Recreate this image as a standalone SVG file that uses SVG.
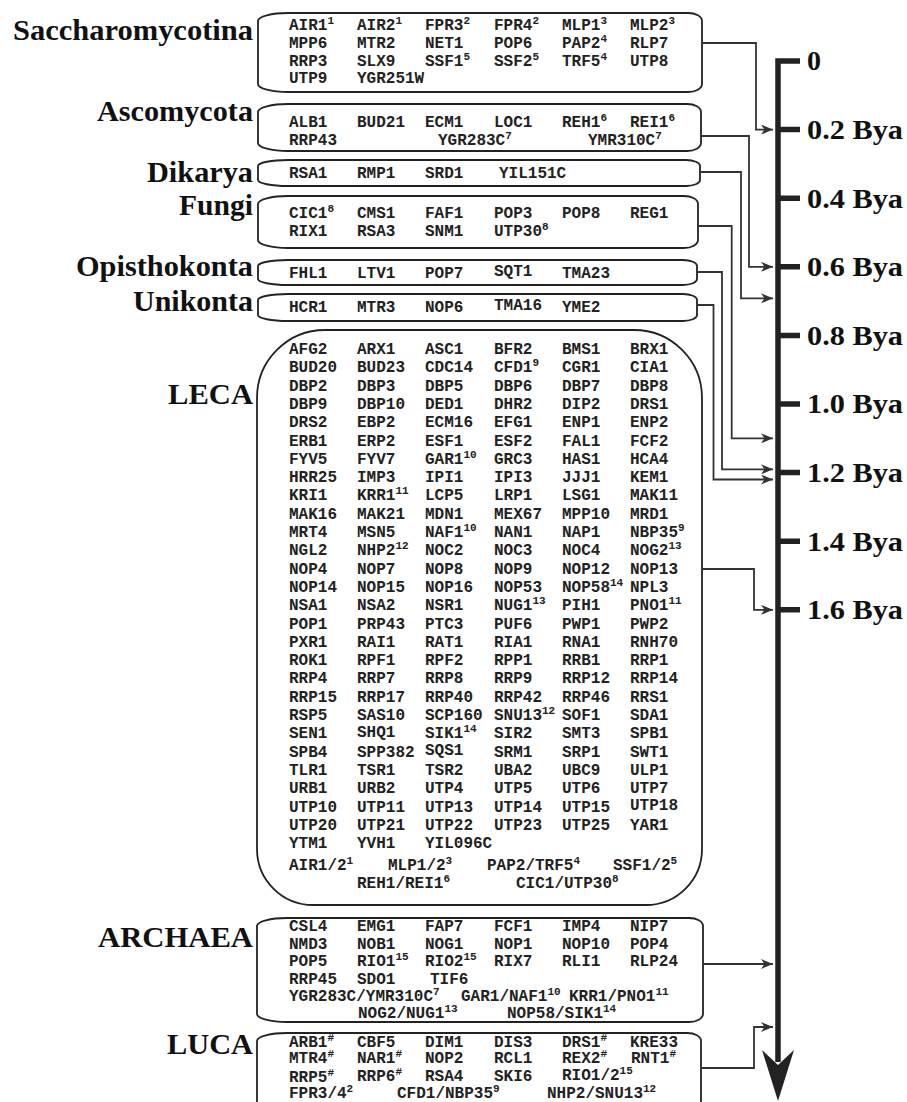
<svg xmlns="http://www.w3.org/2000/svg" width="907" height="1102" viewBox="0 0 907 1102">
<style>
.lab{font-family:"Liberation Serif","Times New Roman",serif;font-weight:bold;font-size:30px;fill:#111}
.tk{font-family:"Liberation Serif","Times New Roman",serif;font-weight:bold;font-size:28px;fill:#111}
.g{font-family:"Liberation Mono","Courier New",monospace;font-weight:bold;font-size:16px;fill:#222}
.s{font-size:11px}
.box{fill:#fff;stroke:#222;stroke-width:1.8}
.con{fill:none;stroke:#333;stroke-width:1.8}
.axis{fill:none;stroke:#222;stroke-width:5.5;stroke-linejoin:miter}
</style>
<defs>
<marker id="ah" markerUnits="userSpaceOnUse" markerWidth="12" markerHeight="10" refX="12" refY="5" orient="auto"><path d="M0,0 L12,5 L0,10 L3.5,5 Z" fill="#333"/></marker>
</defs>
<rect width="907" height="1102" fill="#fff"/>

<g id="saccharomycotina">
<path class="box" d="M288,13 H688 A14,8 0 0 1 702,21 V84 A14,8 0 0 1 688,92 H288 A30,8 0 0 1 258,84 V21 A30,8 0 0 1 288,13 Z"/>
<text class="lab" x="13" y="40" textLength="240" lengthAdjust="spacingAndGlyphs">Saccharomycotina</text>
<text class="g" x="289" y="30">AIR1<tspan class="s" dy="-6">1</tspan></text>
<text class="g" x="357" y="30">AIR2<tspan class="s" dy="-6">1</tspan></text>
<text class="g" x="425" y="30">FPR3<tspan class="s" dy="-6">2</tspan></text>
<text class="g" x="494" y="30">FPR4<tspan class="s" dy="-6">2</tspan></text>
<text class="g" x="562" y="30">MLP1<tspan class="s" dy="-6">3</tspan></text>
<text class="g" x="630" y="30">MLP2<tspan class="s" dy="-6">3</tspan></text>
<text class="g" x="289" y="48">MPP6</text>
<text class="g" x="357" y="48">MTR2</text>
<text class="g" x="425" y="48">NET1</text>
<text class="g" x="494" y="48">POP6</text>
<text class="g" x="562" y="48">PAP2<tspan class="s" dy="-6">4</tspan></text>
<text class="g" x="630" y="48">RLP7</text>
<text class="g" x="289" y="66">RRP3</text>
<text class="g" x="357" y="66">SLX9</text>
<text class="g" x="425" y="66">SSF1<tspan class="s" dy="-6">5</tspan></text>
<text class="g" x="494" y="66">SSF2<tspan class="s" dy="-6">5</tspan></text>
<text class="g" x="562" y="66">TRF5<tspan class="s" dy="-6">4</tspan></text>
<text class="g" x="630" y="66">UTP8</text>
<text class="g" x="289" y="83">UTP9</text>
<text class="g" x="357" y="83">YGR251W</text>
</g>

<g id="ascomycota">
<path class="box" d="M288,104 H687 A14,8 0 0 1 701,112 V143 A14,8 0 0 1 687,151 H288 A30,8 0 0 1 258,143 V112 A30,8 0 0 1 288,104 Z"/>
<text class="lab" x="97" y="121" textLength="156" lengthAdjust="spacingAndGlyphs">Ascomycota</text>
<text class="g" x="289" y="127">ALB1</text>
<text class="g" x="357" y="127">BUD21</text>
<text class="g" x="425" y="127">ECM1</text>
<text class="g" x="494" y="127">LOC1</text>
<text class="g" x="562" y="127">REH1<tspan class="s" dy="-6">6</tspan></text>
<text class="g" x="630" y="127">REI1<tspan class="s" dy="-6">6</tspan></text>
<text class="g" x="289" y="145">RRP43</text>
<text class="g" x="438" y="145">YGR283C<tspan class="s" dy="-6">7</tspan></text>
<text class="g" x="588" y="145">YMR310C<tspan class="s" dy="-6">7</tspan></text>
</g>

<g id="dikarya">
<path class="box" d="M288,160 H686 A14,6 0 0 1 700,166 V180 A14,6 0 0 1 686,186 H288 A30,6 0 0 1 258,180 V166 A30,6 0 0 1 288,160 Z"/>
<text class="lab" x="147" y="182" textLength="106" lengthAdjust="spacingAndGlyphs">Dikarya</text>
<text class="g" x="289" y="178">RSA1</text>
<text class="g" x="357" y="178">RMP1</text>
<text class="g" x="425" y="178">SRD1</text>
<text class="g" x="499" y="178">YIL151C</text>
</g>

<g id="fungi">
<path class="box" d="M288,196 H684 A14,8 0 0 1 698,204 V240 A14,8 0 0 1 684,248 H288 A30,8 0 0 1 258,240 V204 A30,8 0 0 1 288,196 Z"/>
<text class="lab" x="179" y="215" textLength="74" lengthAdjust="spacingAndGlyphs">Fungi</text>
<text class="g" x="289" y="218">CIC1<tspan class="s" dy="-6">8</tspan></text>
<text class="g" x="357" y="218">CMS1</text>
<text class="g" x="425" y="218">FAF1</text>
<text class="g" x="494" y="218">POP3</text>
<text class="g" x="562" y="218">POP8</text>
<text class="g" x="630" y="218">REG1</text>
<text class="g" x="289" y="236">RIX1</text>
<text class="g" x="357" y="236">RSA3</text>
<text class="g" x="425" y="236">SNM1</text>
<text class="g" x="494" y="236">UTP30<tspan class="s" dy="-6">8</tspan></text>
</g>

<g id="opisthokonta">
<path class="box" d="M288,260 H683 A14,6 0 0 1 697,266 V279 A14,6 0 0 1 683,285 H288 A30,6 0 0 1 258,279 V266 A30,6 0 0 1 288,260 Z"/>
<text class="lab" x="76" y="276" textLength="177" lengthAdjust="spacingAndGlyphs">Opisthokonta</text>
<text class="g" x="289" y="278">FHL1</text>
<text class="g" x="357" y="278">LTV1</text>
<text class="g" x="425" y="278">POP7</text>
<text class="g" x="494" y="276">SQT1</text>
<text class="g" x="562" y="278">TMA23</text>
</g>

<g id="unikonta">
<path class="box" d="M288,294 H683 A14,6 0 0 1 697,300 V315 A14,6 0 0 1 683,321 H288 A30,6 0 0 1 258,315 V300 A30,6 0 0 1 288,294 Z"/>
<text class="lab" x="133" y="311" textLength="120" lengthAdjust="spacingAndGlyphs">Unikonta</text>
<text class="g" x="289" y="312">HCR1</text>
<text class="g" x="357" y="312">MTR3</text>
<text class="g" x="425" y="312">NOP6</text>
<text class="g" x="494" y="310">TMA16</text>
<text class="g" x="562" y="312">YME2</text>
</g>

<g id="leca">
<path class="box" d="M325,330 H634 A68,68 0 0 1 702,398 V849 A56,56 0 0 1 646,905 H313 A56,56 0 0 1 257,849 V398 A68,68 0 0 1 325,330 Z"/>
<text class="lab" x="168" y="404" textLength="85" lengthAdjust="spacingAndGlyphs">LECA</text>
<text class="g" x="289" y="354">AFG2</text><text class="g" x="357" y="354">ARX1</text><text class="g" x="425" y="354">ASC1</text><text class="g" x="494" y="354">BFR2</text><text class="g" x="562" y="354">BMS1</text><text class="g" x="630" y="354">BRX1</text>
<text class="g" x="289" y="372.3">BUD20</text><text class="g" x="357" y="372.3">BUD23</text><text class="g" x="425" y="372.3">CDC14</text><text class="g" x="494" y="372.3">CFD1<tspan class="s" dy="-6">9</tspan></text><text class="g" x="562" y="372.3">CGR1</text><text class="g" x="630" y="372.3">CIA1</text>
<text class="g" x="289" y="390.6">DBP2</text><text class="g" x="357" y="390.6">DBP3</text><text class="g" x="425" y="390.6">DBP5</text><text class="g" x="494" y="390.6">DBP6</text><text class="g" x="562" y="390.6">DBP7</text><text class="g" x="630" y="390.6">DBP8</text>
<text class="g" x="289" y="408.9">DBP9</text><text class="g" x="357" y="408.9">DBP10</text><text class="g" x="425" y="408.9">DED1</text><text class="g" x="494" y="408.9">DHR2</text><text class="g" x="562" y="408.9">DIP2</text><text class="g" x="630" y="408.9">DRS1</text>
<text class="g" x="289" y="427.2">DRS2</text><text class="g" x="357" y="427.2">EBP2</text><text class="g" x="425" y="427.2">ECM16</text><text class="g" x="494" y="427.2">EFG1</text><text class="g" x="562" y="427.2">ENP1</text><text class="g" x="630" y="427.2">ENP2</text>
<text class="g" x="289" y="445.5">ERB1</text><text class="g" x="357" y="445.5">ERP2</text><text class="g" x="425" y="445.5">ESF1</text><text class="g" x="494" y="445.5">ESF2</text><text class="g" x="562" y="445.5">FAL1</text><text class="g" x="630" y="445.5">FCF2</text>
<text class="g" x="289" y="463.8">FYV5</text><text class="g" x="357" y="463.8">FYV7</text><text class="g" x="425" y="463.8">GAR1<tspan class="s" dy="-6">10</tspan></text><text class="g" x="494" y="463.8">GRC3</text><text class="g" x="562" y="463.8">HAS1</text><text class="g" x="630" y="463.8">HCA4</text>
<text class="g" x="289" y="482.1">HRR25</text><text class="g" x="357" y="482.1">IMP3</text><text class="g" x="425" y="482.1">IPI1</text><text class="g" x="494" y="482.1">IPI3</text><text class="g" x="562" y="482.1">JJJ1</text><text class="g" x="630" y="482.1">KEM1</text>
<text class="g" x="289" y="500.4">KRI1</text><text class="g" x="357" y="500.4">KRR1<tspan class="s" dy="-6">11</tspan></text><text class="g" x="425" y="500.4">LCP5</text><text class="g" x="494" y="500.4">LRP1</text><text class="g" x="562" y="500.4">LSG1</text><text class="g" x="630" y="500.4">MAK11</text>
<text class="g" x="289" y="518.7">MAK16</text><text class="g" x="357" y="518.7">MAK21</text><text class="g" x="425" y="518.7">MDN1</text><text class="g" x="494" y="518.7">MEX67</text><text class="g" x="562" y="518.7">MPP10</text><text class="g" x="630" y="518.7">MRD1</text>
<text class="g" x="289" y="537">MRT4</text><text class="g" x="357" y="537">MSN5</text><text class="g" x="425" y="537">NAF1<tspan class="s" dy="-6">10</tspan></text><text class="g" x="494" y="537">NAN1</text><text class="g" x="562" y="537">NAP1</text><text class="g" x="630" y="537">NBP35<tspan class="s" dy="-6">9</tspan></text>
<text class="g" x="289" y="555.3">NGL2</text><text class="g" x="357" y="555.3">NHP2<tspan class="s" dy="-6">12</tspan></text><text class="g" x="425" y="555.3">NOC2</text><text class="g" x="494" y="555.3">NOC3</text><text class="g" x="562" y="555.3">NOC4</text><text class="g" x="630" y="555.3">NOG2<tspan class="s" dy="-6">13</tspan></text>
<text class="g" x="289" y="573.6">NOP4</text><text class="g" x="357" y="573.6">NOP7</text><text class="g" x="425" y="573.6">NOP8</text><text class="g" x="494" y="573.6">NOP9</text><text class="g" x="562" y="573.6">NOP12</text><text class="g" x="630" y="573.6">NOP13</text>
<text class="g" x="289" y="591.9">NOP14</text><text class="g" x="357" y="591.9">NOP15</text><text class="g" x="425" y="591.9">NOP16</text><text class="g" x="494" y="591.9">NOP53</text><text class="g" x="562" y="591.9">NOP58<tspan class="s" dy="-6">14</tspan></text><text class="g" x="630" y="591.9">NPL3</text>
<text class="g" x="289" y="610.2">NSA1</text><text class="g" x="357" y="610.2">NSA2</text><text class="g" x="425" y="610.2">NSR1</text><text class="g" x="494" y="610.2">NUG1<tspan class="s" dy="-6">13</tspan></text><text class="g" x="562" y="610.2">PIH1</text><text class="g" x="630" y="610.2">PNO1<tspan class="s" dy="-6">11</tspan></text>
<text class="g" x="289" y="628.5">POP1</text><text class="g" x="357" y="628.5">PRP43</text><text class="g" x="425" y="628.5">PTC3</text><text class="g" x="494" y="628.5">PUF6</text><text class="g" x="562" y="628.5">PWP1</text><text class="g" x="630" y="628.5">PWP2</text>
<text class="g" x="289" y="646.8">PXR1</text><text class="g" x="357" y="646.8">RAI1</text><text class="g" x="425" y="646.8">RAT1</text><text class="g" x="494" y="646.8">RIA1</text><text class="g" x="562" y="646.8">RNA1</text><text class="g" x="630" y="646.8">RNH70</text>
<text class="g" x="289" y="665.1">ROK1</text><text class="g" x="357" y="665.1">RPF1</text><text class="g" x="425" y="665.1">RPF2</text><text class="g" x="494" y="665.1">RPP1</text><text class="g" x="562" y="665.1">RRB1</text><text class="g" x="630" y="665.1">RRP1</text>
<text class="g" x="289" y="683.4">RRP4</text><text class="g" x="357" y="683.4">RRP7</text><text class="g" x="425" y="683.4">RRP8</text><text class="g" x="494" y="683.4">RRP9</text><text class="g" x="562" y="683.4">RRP12</text><text class="g" x="630" y="683.4">RRP14</text>
<text class="g" x="289" y="701.7">RRP15</text><text class="g" x="357" y="701.7">RRP17</text><text class="g" x="425" y="701.7">RRP40</text><text class="g" x="494" y="701.7">RRP42</text><text class="g" x="562" y="701.7">RRP46</text><text class="g" x="630" y="701.7">RRS1</text>
<text class="g" x="289" y="720">RSP5</text><text class="g" x="357" y="720">SAS10</text><text class="g" x="425" y="720">SCP160</text><text class="g" x="494" y="720">SNU13<tspan class="s" dy="-6">12</tspan></text><text class="g" x="562" y="720">SOF1</text><text class="g" x="630" y="720">SDA1</text>
<text class="g" x="289" y="738.3">SEN1</text><text class="g" x="357" y="736.5">SHQ1</text><text class="g" x="425" y="738.3">SIK1<tspan class="s" dy="-6">14</tspan></text><text class="g" x="494" y="738.3">SIR2</text><text class="g" x="562" y="738.3">SMT3</text><text class="g" x="630" y="738.3">SPB1</text>
<text class="g" x="289" y="756.6">SPB4</text><text class="g" x="357" y="756.6">SPP382</text><text class="g" x="425" y="754.8">SQS1</text><text class="g" x="494" y="756.6">SRM1</text><text class="g" x="562" y="756.6">SRP1</text><text class="g" x="630" y="756.6">SWT1</text>
<text class="g" x="289" y="774.9">TLR1</text><text class="g" x="357" y="774.9">TSR1</text><text class="g" x="425" y="774.9">TSR2</text><text class="g" x="494" y="774.9">UBA2</text><text class="g" x="562" y="774.9">UBC9</text><text class="g" x="630" y="774.9">ULP1</text>
<text class="g" x="289" y="793.2">URB1</text><text class="g" x="357" y="793.2">URB2</text><text class="g" x="425" y="793.2">UTP4</text><text class="g" x="494" y="793.2">UTP5</text><text class="g" x="562" y="793.2">UTP6</text><text class="g" x="630" y="793.2">UTP7</text>
<text class="g" x="289" y="811.5">UTP10</text><text class="g" x="357" y="811.5">UTP11</text><text class="g" x="425" y="811.5">UTP13</text><text class="g" x="494" y="811.5">UTP14</text><text class="g" x="562" y="811.5">UTP15</text><text class="g" x="630" y="809.7">UTP18</text>
<text class="g" x="289" y="829.8">UTP20</text><text class="g" x="357" y="829.8">UTP21</text><text class="g" x="425" y="829.8">UTP22</text><text class="g" x="494" y="829.8">UTP23</text><text class="g" x="562" y="829.8">UTP25</text><text class="g" x="630" y="829.8">YAR1</text>
<text class="g" x="289" y="848.1">YTM1</text><text class="g" x="357" y="848.1">YVH1</text><text class="g" x="425" y="848.1">YIL096C</text>
<text class="g" x="289" y="870">AIR1/2<tspan class="s" dy="-6">1</tspan></text>
<text class="g" x="388" y="870">MLP1/2<tspan class="s" dy="-6">3</tspan></text>
<text class="g" x="487" y="870">PAP2/TRF5<tspan class="s" dy="-6">4</tspan></text>
<text class="g" x="613" y="870">SSF1/2<tspan class="s" dy="-6">5</tspan></text>
<text class="g" x="357" y="888">REH1/REI1<tspan class="s" dy="-6">6</tspan></text>
<text class="g" x="516" y="888">CIC1/UTP30<tspan class="s" dy="-6">8</tspan></text>
</g>

<g id="archaea">
<path class="box" d="M287,918 H689 A14,8 0 0 1 703,926 V1014 A14,8 0 0 1 689,1022 H287 A30,8 0 0 1 257,1014 V926 A30,8 0 0 1 287,918 Z"/>
<text class="lab" x="98" y="947" textLength="155" lengthAdjust="spacingAndGlyphs">ARCHAEA</text>
<text class="g" x="289" y="931">CSL4</text><text class="g" x="357" y="931">EMG1</text><text class="g" x="425" y="931">FAP7</text><text class="g" x="494" y="931">FCF1</text><text class="g" x="562" y="931">IMP4</text><text class="g" x="630" y="931">NIP7</text>
<text class="g" x="289" y="948.5">NMD3</text><text class="g" x="357" y="948.5">NOB1</text><text class="g" x="425" y="948.5">NOG1</text><text class="g" x="494" y="948.5">NOP1</text><text class="g" x="562" y="948.5">NOP10</text><text class="g" x="630" y="948.5">POP4</text>
<text class="g" x="289" y="966">POP5</text><text class="g" x="357" y="966">RIO1<tspan class="s" dy="-6">15</tspan></text><text class="g" x="425" y="966">RIO2<tspan class="s" dy="-6">15</tspan></text><text class="g" x="494" y="966">RIX7</text><text class="g" x="562" y="966">RLI1</text><text class="g" x="630" y="966">RLP24</text>
<text class="g" x="289" y="983.5">RRP45</text><text class="g" x="357" y="983.5">SDO1</text><text class="g" x="430" y="983.5">TIF6</text>
<text class="g" x="289" y="1001">YGR283C/YMR310C<tspan class="s" dy="-6">7</tspan></text>
<text class="g" x="461" y="1001">GAR1/NAF1<tspan class="s" dy="-6">10</tspan></text>
<text class="g" x="569" y="1001">KRR1/PNO1<tspan class="s" dy="-6">11</tspan></text>
<text class="g" x="358" y="1018">NOG2/NUG1<tspan class="s" dy="-6">13</tspan></text>
<text class="g" x="507" y="1018">NOP58/SIK1<tspan class="s" dy="-6">14</tspan></text>
</g>

<g id="luca">
<path class="box" d="M287,1033 H687 A14,8 0 0 1 701,1041 V1115 H257 V1041 A30,8 0 0 1 287,1033 Z"/>
<text class="lab" x="167" y="1054" textLength="86" lengthAdjust="spacingAndGlyphs">LUCA</text>
<text class="g" x="289" y="1047">ARB1<tspan class="s" dy="-6">#</tspan></text><text class="g" x="357" y="1047">CBF5</text><text class="g" x="425" y="1047">DIM1</text><text class="g" x="494" y="1047">DIS3</text><text class="g" x="562" y="1047">DRS1<tspan class="s" dy="-6">#</tspan></text><text class="g" x="630" y="1047">KRE33</text>
<text class="g" x="289" y="1063">MTR4<tspan class="s" dy="-6">#</tspan></text><text class="g" x="357" y="1063">NAR1<tspan class="s" dy="-6">#</tspan></text><text class="g" x="425" y="1063">NOP2</text><text class="g" x="494" y="1063">RCL1</text><text class="g" x="562" y="1063">REX2<tspan class="s" dy="-6">#</tspan></text><text class="g" x="631" y="1063">RNT1<tspan class="s" dy="-6">#</tspan></text>
<text class="g" x="289" y="1082">RRP5<tspan class="s" dy="-6">#</tspan></text><text class="g" x="357" y="1081">RRP6<tspan class="s" dy="-6">#</tspan></text><text class="g" x="425" y="1081">RSA4</text><text class="g" x="494" y="1081">SKI6</text><text class="g" x="562" y="1080">RIO1/2<tspan class="s" dy="-6">15</tspan></text>
<text class="g" x="289" y="1098">FPR3/4<tspan class="s" dy="-6">2</tspan></text>
<text class="g" x="397" y="1098">CFD1/NBP35<tspan class="s" dy="-6">9</tspan></text>
<text class="g" x="547" y="1098">NHP2/SNU13<tspan class="s" dy="-6">12</tspan></text>
</g>

<g id="connectors">
<path class="con" d="M702,43 H756 V129.6 H773" marker-end="url(#ah)"/>
<path class="con" d="M701,136 H749 V266.8 H773" marker-end="url(#ah)"/>
<path class="con" d="M700,172 H741 V298.3 H773" marker-end="url(#ah)"/>
<path class="con" d="M698,226 H731.7 V438.3 H773" marker-end="url(#ah)"/>
<path class="con" d="M697,272 H722 V469.3 H773" marker-end="url(#ah)"/>
<path class="con" d="M697,305 H713.5 V479.5 H773" marker-end="url(#ah)"/>
<path class="con" d="M702,569 H754 V609.8 H773" marker-end="url(#ah)"/>
<path class="con" d="M703,964 H773" marker-end="url(#ah)"/>
<path class="con" d="M701,1068 H754 V1027 H773" marker-end="url(#ah)"/>
</g>

<g id="axis">
<path class="axis" d="M800,61 H778 V1062"/>
<path class="axis" d="M778,129.6 H800 M778,198.2 H800 M778,266.8 H800 M778,335.4 H800 M778,404 H800 M778,472.6 H800 M778,541.2 H800 M778,609.8 H800"/>
<polygon points="778,1101 762,1050 778,1065 794,1050" fill="#222"/>
<text class="tk" x="807" y="70">0</text>
<text class="tk" x="807" y="139" textLength="96" lengthAdjust="spacingAndGlyphs">0.2 Bya</text>
<text class="tk" x="807" y="207.6" textLength="96" lengthAdjust="spacingAndGlyphs">0.4 Bya</text>
<text class="tk" x="807" y="276.2" textLength="96" lengthAdjust="spacingAndGlyphs">0.6 Bya</text>
<text class="tk" x="807" y="344.8" textLength="96" lengthAdjust="spacingAndGlyphs">0.8 Bya</text>
<text class="tk" x="807" y="413.4" textLength="96" lengthAdjust="spacingAndGlyphs">1.0 Bya</text>
<text class="tk" x="807" y="482" textLength="96" lengthAdjust="spacingAndGlyphs">1.2 Bya</text>
<text class="tk" x="807" y="550.6" textLength="96" lengthAdjust="spacingAndGlyphs">1.4 Bya</text>
<text class="tk" x="807" y="619.2" textLength="96" lengthAdjust="spacingAndGlyphs">1.6 Bya</text>
</g>
</svg>
